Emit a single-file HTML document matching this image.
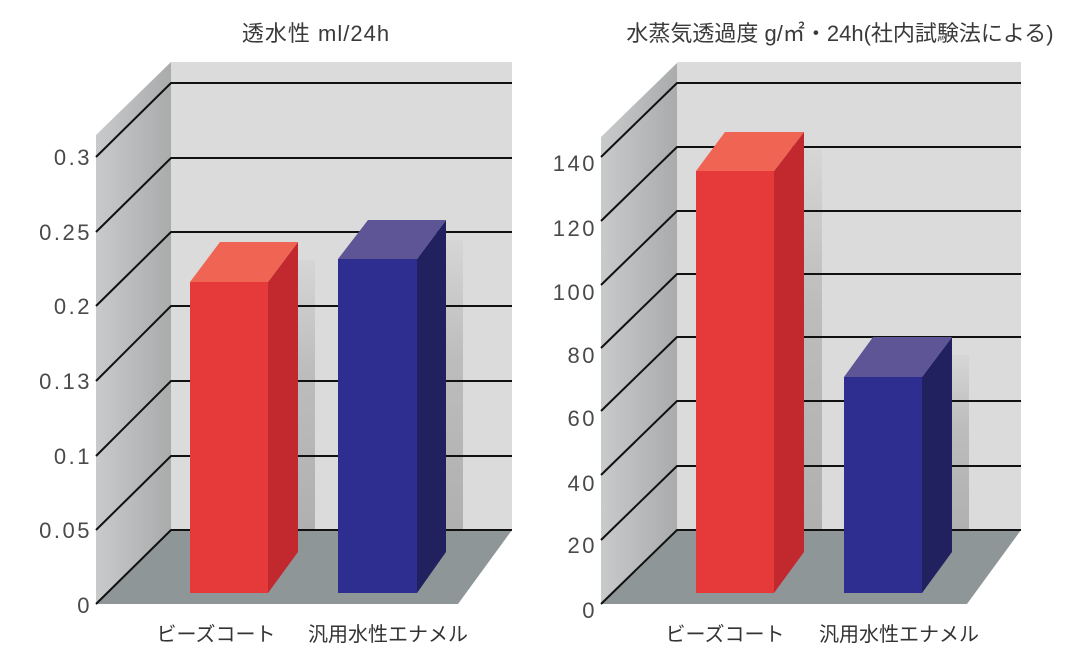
<!DOCTYPE html>
<html><head><meta charset="utf-8"><style>
html,body{margin:0;padding:0;background:#fff;}
svg{display:block;}
text{font-family:"Liberation Sans","Noto Sans CJK JP",sans-serif;}
</style></head><body>
<svg width="1089" height="659" viewBox="0 0 1089 659" xmlns="http://www.w3.org/2000/svg">
<defs>
<linearGradient id="side" x1="0" y1="0" x2="1" y2="0">
<stop offset="0" stop-color="#c9cacb"/><stop offset="1" stop-color="#a9abac"/>
</linearGradient>
<linearGradient id="shd" x1="0" y1="0" x2="0" y2="1">
<stop offset="0" stop-color="#d6d6d6"/><stop offset="0.4" stop-color="#bdbdbd"/><stop offset="1" stop-color="#b0b0b0"/>
</linearGradient>
</defs>

<!-- LEFT CHART -->
<polygon points="96,135 171,62 171,530 96,605" fill="url(#side)"/>
<rect x="171" y="62" width="341" height="468" fill="#dbdbdb"/>
<rect x="298" y="260" width="17" height="270" fill="url(#shd)"/>
<rect x="446" y="240" width="17" height="290" fill="url(#shd)"/>
<polygon points="171,530 512,530 458,604 96,604" fill="#8e9697"/>
<g stroke="#111" stroke-width="2" fill="none">
<path d="M96,157 L171,83 H512"/>
<path d="M96,232 L171,158 H512"/>
<path d="M96,306 L171,232 H512"/>
<path d="M96,381 L171,306 H512"/>
<path d="M96,456 L171,381 H512"/>
<path d="M96,530 L171,456 H512"/>
<path d="M96,604 L171,530 H512"/>
</g>
<!-- red bar -->
<polygon points="268,282 298,242 298,552 268,593" fill="#c2292f"/>
<polygon points="190,282 268,282 298,242 220,242" fill="#ef6452"/>
<rect x="190" y="282" width="78" height="311" fill="#e63a3a"/>
<!-- blue bar -->
<polygon points="417,259 446,220 446,552 417,593" fill="#212160"/>
<polygon points="338,259 417,259 446,220 368,220" fill="#5d5595"/>
<rect x="338" y="259" width="79" height="334" fill="#2e2d90"/>

<g fill="#4a4a4a" font-size="22" text-anchor="end" letter-spacing="2.5">
<text x="92" y="165">0.3</text>
<text x="92" y="240">0.25</text>
<text x="92" y="314">0.2</text>
<text x="92" y="389">0.13</text>
<text x="92" y="464">0.1</text>
<text x="92" y="538">0.05</text>
<text x="92" y="613">0</text>
</g>
<text x="316" y="41" font-size="22" fill="#3a3a3a" text-anchor="middle" letter-spacing="1">透水性 ml/24h</text>
<g font-size="20" fill="#333" text-anchor="middle">
<text x="216" y="641">ビーズコート</text>
<text x="388" y="641">汎用水性エナメル</text>
</g>

<!-- RIGHT CHART -->
<polygon points="601,137 677,63 677,530 601,604" fill="url(#side)"/>
<rect x="677" y="62" width="344" height="468" fill="#dbdbdb"/>
<rect x="804" y="150" width="18" height="380" fill="url(#shd)"/>
<rect x="951" y="355" width="18" height="175" fill="url(#shd)"/>
<polygon points="677,530 1021,530 967,604 601,604" fill="#8e9697"/>
<g stroke="#111" stroke-width="2" fill="none">
<path d="M601,157 L677,83 H1021"/>
<path d="M601,221 L677,147 H1021"/>
<path d="M601,285 L677,211 H1021"/>
<path d="M601,348 L677,274 H1021"/>
<path d="M601,411 L677,337 H1021"/>
<path d="M601,475 L677,401 H1021"/>
<path d="M601,540 L677,466 H1021"/>
<path d="M601,604 L677,530 H1021"/>
</g>
<!-- red bar -->
<polygon points="774,171 804,132 804,552 774,593" fill="#c2292f"/>
<polygon points="696,171 774,171 804,132 725,132" fill="#ef6452"/>
<rect x="696" y="171" width="78" height="422" fill="#e63a3a"/>
<!-- blue bar -->
<polygon points="922,377 952,337 952,552 922,593" fill="#212160"/>
<polygon points="844,377 922,377 952,337 873,337" fill="#5d5595"/>
<rect x="844" y="377" width="78" height="216" fill="#2e2d90"/>

<g fill="#4a4a4a" font-size="22" text-anchor="end" letter-spacing="2.5">
<text x="597" y="171">140</text>
<text x="597" y="236">120</text>
<text x="597" y="300">100</text>
<text x="597" y="363">80</text>
<text x="597" y="426">60</text>
<text x="597" y="491">40</text>
<text x="597" y="553">20</text>
<text x="597" y="618">0</text>
</g>
<text x="840" y="41" font-size="22" fill="#3a3a3a" text-anchor="middle">水蒸気透過度 g/㎡・24h(社内試験法による)</text>
<g font-size="20" fill="#333" text-anchor="middle">
<text x="725" y="641">ビーズコート</text>
<text x="899" y="641">汎用水性エナメル</text>
</g>
</svg>
</body></html>
